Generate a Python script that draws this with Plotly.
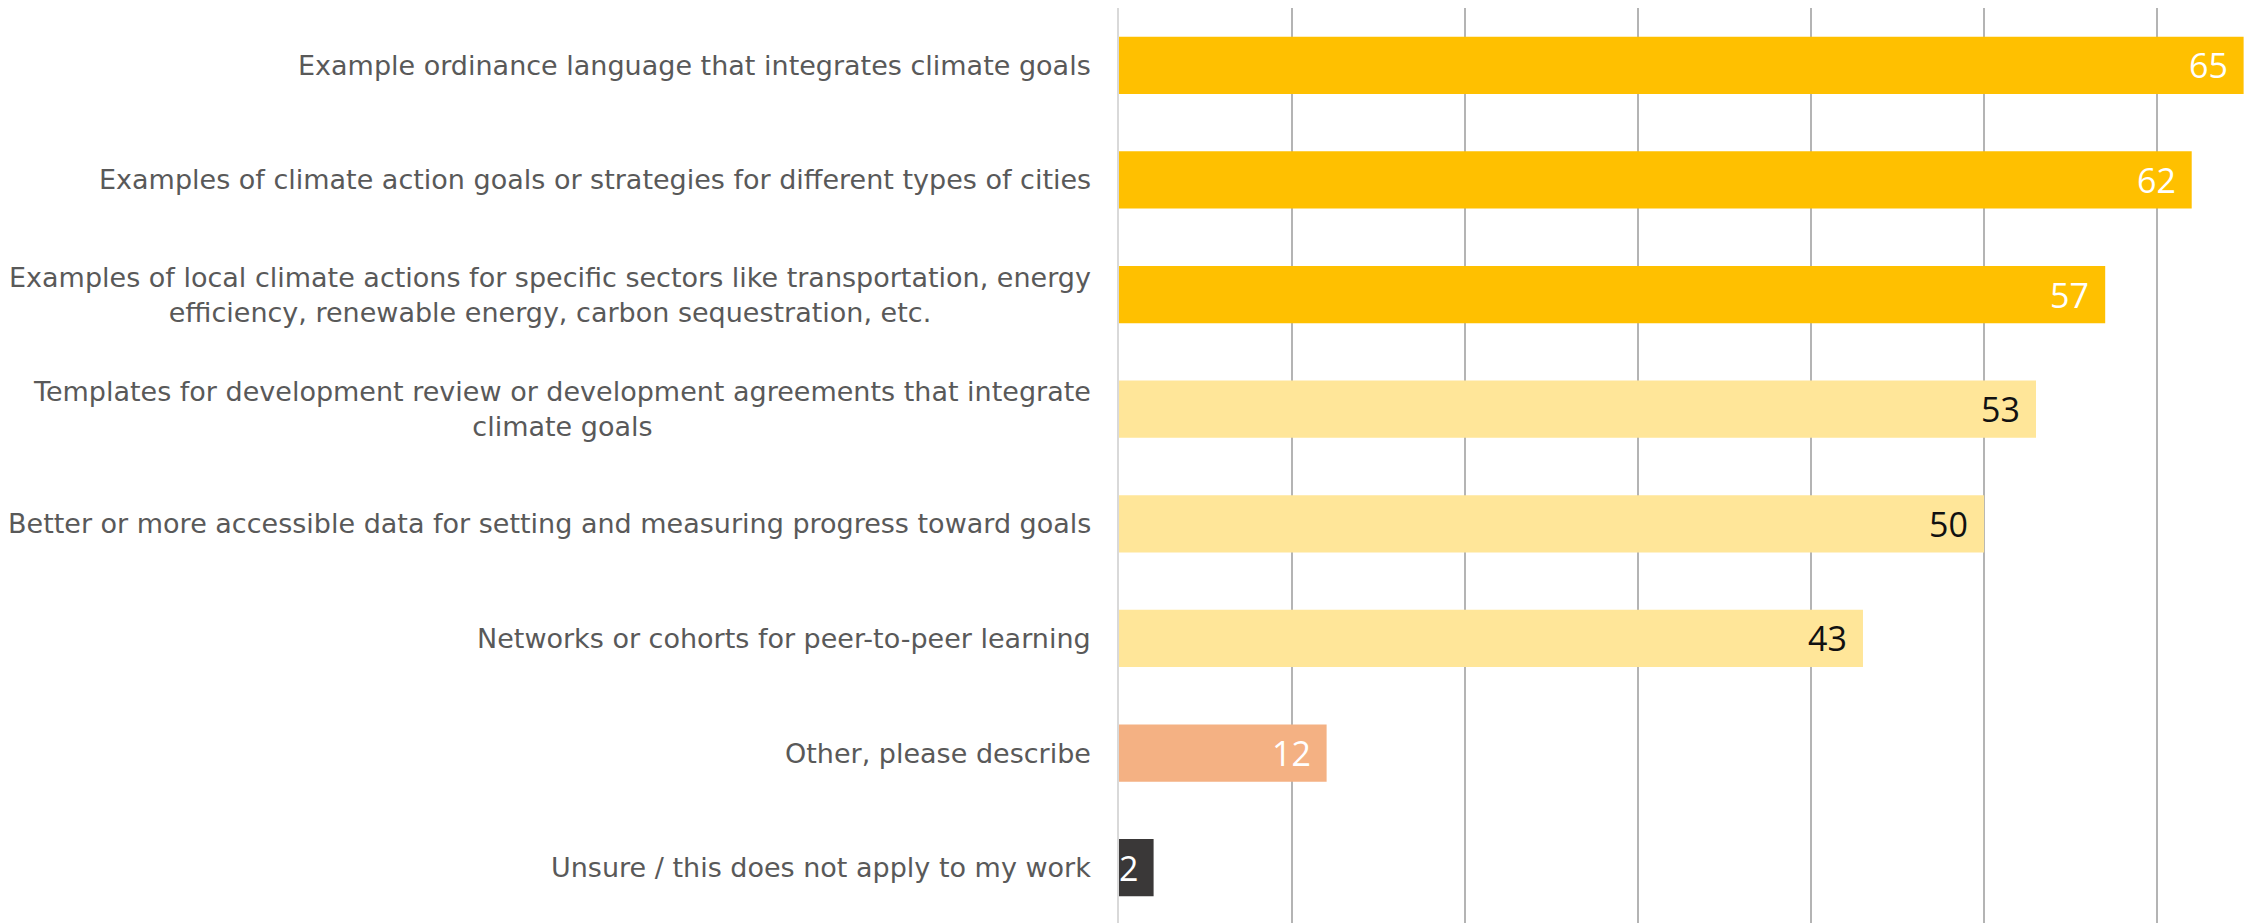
import plotly.graph_objects as go

# Respuestas (de arriba hacia abajo)
categorias = [
    "Example ordinance language that integrates climate goals",
    "Examples of climate action goals or strategies for different types of cities",
    "Examples of local climate actions for specific sectors like transportation, energy<br>efficiency, renewable energy, carbon sequestration, etc.",
    "Templates for development review or development agreements that integrate<br>climate goals",
    "Better or more accessible data for setting and measuring progress toward goals",
    "Networks or cohorts for peer-to-peer learning",
    "Other, please describe",
    "Unsure / this does not apply to my work",
]
valores = [65, 62, 57, 53, 50, 43, 12, 2]
colores = ["#FFC000", "#FFC000", "#FFC000", "#FFE699", "#FFE699", "#FFE699", "#F4B183", "#3A3838"]
colores_texto = ["white", "white", "white", "#111111", "#111111", "#111111", "white", "white"]
ticks_x = [0, 10, 20, 30, 40, 50, 60]

fig = go.Figure()
fig.add_trace(go.Bar(
    x=valores,
    y=categorias,
    orientation="h",
    marker=dict(color=colores, line=dict(width=0)),
    hoverinfo="x+y",
))

# etiquetas de categorias (centradas como en el original)
for cat in categorias:
    fig.add_annotation(
        x=0, xref="paper", y=cat, yref="y",
        text=cat, showarrow=False,
        xanchor="right", align="center", xshift=-26,
        font=dict(family="DejaVu Sans", size=27, color="#595959"),
    )

# valores dentro de las barras
for cat, val, ct in zip(categorias, valores, colores_texto):
    fig.add_annotation(
        x=val, y=cat, text=str(val), showarrow=False,
        xanchor="right", xshift=-14,
        font=dict(family="Open Sans", size=34, color=ct),
    )

fig.update_xaxes(
    range=[0, 65.6],
    tickvals=ticks_x,
    showticklabels=False,
    showgrid=True, gridcolor="#B4B4B4", gridwidth=2,
    zeroline=False, showline=False,
)
fig.update_yaxes(
    autorange="reversed",
    showticklabels=False,
    showgrid=False,
    showline=True, linecolor="#D9D9D9", linewidth=2,
)
# la pagina tiene 8px de margen en body
fig.update_layout(
    width=2246, height=917,
    margin=dict(l=1111, r=0, t=0, b=0),
    bargap=0.5,
    showlegend=False,
    plot_bgcolor="white",
    paper_bgcolor="white",
)

fig.write_html("out.html")
